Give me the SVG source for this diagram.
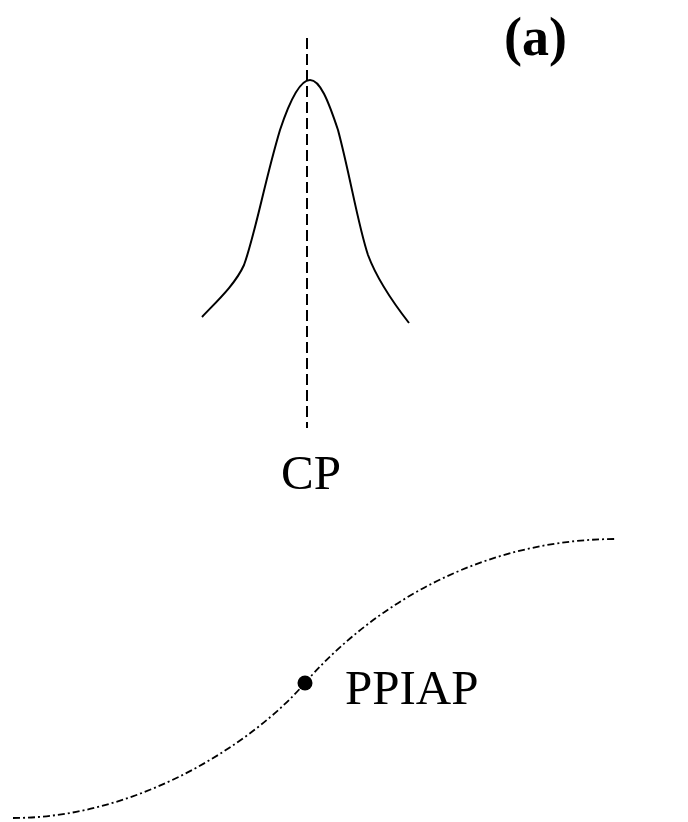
<svg xmlns="http://www.w3.org/2000/svg" width="688" height="822" viewBox="0 0 688 822">
<style>
.lbl{font-family:"Liberation Serif","Times New Roman",serif;fill:#000}
.curve{fill:none;stroke:#000;stroke-width:2}
.axis{fill:none;stroke:#000;stroke-width:2;stroke-dasharray:11 5}
.sig{fill:none;stroke:#000;stroke-width:1.8;stroke-dasharray:7 3 2 3}
</style>
<rect width="688" height="822" fill="#fff"/>
<g id="label-a"><text class="lbl" x="504" y="55" font-size="54" font-weight="bold">(a)</text></g>
<g id="connectors">
<path class="axis" d="M307,38 L307,428"/>
<path class="sig" d="M13,818 C140,818 255,741 305,683 C355,625 460,540 615,539"/>
</g>
<g id="gaussian"><path class="curve" d="M202,317 C215,303 235,285 244,265 C255,235 265,180 280,130 C290,100 300,80 310,80 C320,80 328,100 338,130 C350,175 358,225 368,255 C378,282 395,305 409,323"/></g>
<g id="cp"><text class="lbl" x="281" y="489" font-size="49">CP</text></g>
<g id="ppiap"><circle cx="305" cy="683" r="7.5" fill="#000"/><text class="lbl" x="345" y="704" font-size="49">PPIAP</text></g>
</svg>
